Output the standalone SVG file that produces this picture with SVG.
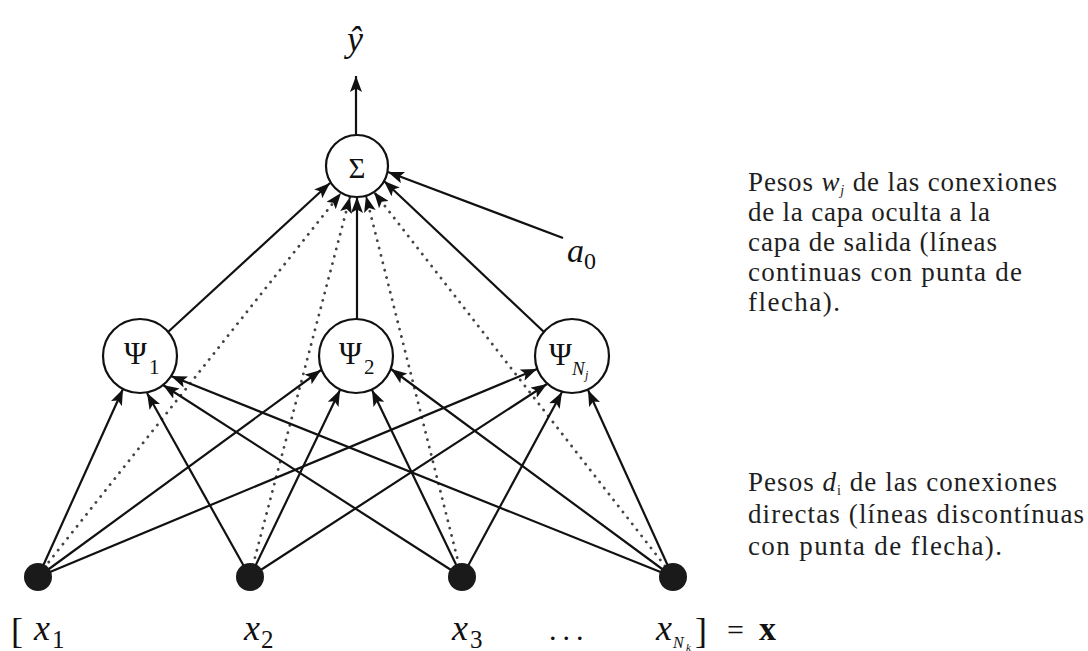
<svg xmlns="http://www.w3.org/2000/svg" width="1088" height="651" viewBox="0 0 1088 651">
<style>
.ln{stroke:#111;stroke-width:2.2;fill:none}
.dt{stroke:#444;stroke-width:2.8;fill:none;stroke-dasharray:0.1 7.5;stroke-linecap:round}
.nd{fill:#fff;stroke:#111;stroke-width:2.2}
.in{fill:#1a1a1a}
.m{font-family:"Liberation Serif",serif;fill:#111}
.it{font-style:italic}
.tx{font-family:"Liberation Serif",serif;font-size:27px;fill:#1e1e1e}
</style>
<defs>
<marker id="arr" markerUnits="userSpaceOnUse" markerWidth="17" markerHeight="12" refX="16" refY="6" orient="auto">
<path d="M0,0 L16,6 L0,12 L3.5,6 z" fill="#111"/>
</marker>
</defs>
<g id="connectors">
<line class="ln" x1="356" y1="135" x2="356" y2="76" marker-end="url(#arr)"/>
<line class="ln" x1="168" y1="332" x2="330" y2="183" marker-end="url(#arr)"/>
<line class="ln" x1="357" y1="319" x2="357" y2="197" marker-end="url(#arr)"/>
<line class="ln" x1="544" y1="332" x2="384" y2="181" marker-end="url(#arr)"/>
<line class="ln" x1="563" y1="238" x2="388" y2="172" marker-end="url(#arr)"/>
<line class="dt" x1="44" y1="568" x2="341" y2="193" marker-end="url(#arr)"/>
<line class="dt" x1="253" y1="565" x2="350" y2="197" marker-end="url(#arr)"/>
<line class="dt" x1="459" y1="565" x2="366" y2="196" marker-end="url(#arr)"/>
<line class="dt" x1="665" y1="566" x2="374" y2="192" marker-end="url(#arr)"/>
<line class="ln" x1="38" y1="577" x2="123" y2="389" marker-end="url(#arr)"/>
<line class="ln" x1="38" y1="577" x2="321" y2="370" marker-end="url(#arr)"/>
<line class="ln" x1="38" y1="577" x2="537" y2="369" marker-end="url(#arr)"/>
<line class="ln" x1="250" y1="577" x2="147" y2="393" marker-end="url(#arr)"/>
<line class="ln" x1="250" y1="577" x2="340" y2="390" marker-end="url(#arr)"/>
<line class="ln" x1="250" y1="577" x2="547" y2="384" marker-end="url(#arr)"/>
<line class="ln" x1="462" y1="577" x2="163" y2="385" marker-end="url(#arr)"/>
<line class="ln" x1="462" y1="577" x2="372" y2="390" marker-end="url(#arr)"/>
<line class="ln" x1="462" y1="577" x2="562" y2="392" marker-end="url(#arr)"/>
<line class="ln" x1="673" y1="577" x2="171" y2="376" marker-end="url(#arr)"/>
<line class="ln" x1="673" y1="577" x2="391" y2="369" marker-end="url(#arr)"/>
<line class="ln" x1="673" y1="577" x2="588" y2="390" marker-end="url(#arr)"/>
</g>
<g id="yhat">
<text class="m it" x="355" y="51" font-size="36" text-anchor="middle">ŷ</text>
</g>
<g id="sigma">
<circle class="nd" cx="357" cy="166" r="31"/>
<text class="m" x="357" y="178" font-size="29" text-anchor="middle">Σ</text>
</g>
<g id="a0">
<text class="m it" x="567" y="262" font-size="34">a</text>
<text class="m" x="584" y="269" font-size="24">0</text>
</g>
<g id="psi1">
<circle class="nd" cx="140" cy="356" r="37"/>
<text class="m" x="124" y="364" font-size="31">Ψ</text>
<text class="m" x="149" y="374" font-size="21">1</text>
</g>
<g id="psi2">
<circle class="nd" cx="356" cy="356" r="37"/>
<text class="m" x="339" y="364" font-size="31">Ψ</text>
<text class="m" x="364" y="374" font-size="21">2</text>
</g>
<g id="psiNj">
<circle class="nd" cx="572" cy="356" r="37"/>
<text class="m" x="549" y="365" font-size="31">Ψ</text>
<text class="m it" x="572" y="375" font-size="19">N</text>
<text class="m it" x="585" y="379" font-size="12">j</text>
</g>
<g id="x1">
<circle class="in" cx="38" cy="577" r="14"/>
<text class="m" x="11" y="643" font-size="36">[</text>
<text class="m it" x="34" y="640" font-size="36">x</text>
<text class="m" x="52" y="648" font-size="25">1</text>
</g>
<g id="x2">
<circle class="in" cx="250" cy="577" r="14"/>
<text class="m it" x="244" y="640" font-size="36">x</text>
<text class="m" x="261" y="648" font-size="25">2</text>
</g>
<g id="x3">
<circle class="in" cx="462" cy="577" r="14"/>
<text class="m it" x="452" y="640" font-size="36">x</text>
<text class="m" x="470" y="648" font-size="25">3</text>
</g>
<g id="dots">
<text class="m" x="549" y="640" font-size="30" letter-spacing="6">...</text>
</g>
<g id="xNk">
<circle class="in" cx="673" cy="577" r="14"/>
<text class="m it" x="656" y="640" font-size="36">x</text>
<text class="m it" x="673" y="648" font-size="16">N</text>
<text class="m it" x="686" y="651" font-size="11">k</text>
<text class="m" x="695" y="643" font-size="36">]</text>
<text class="m" x="727" y="640" font-size="30">=</text>
<text class="m" x="759" y="640" font-size="34" font-weight="bold">x</text>
</g>
<g id="note-w">
<text class="tx" x="748" y="191" textLength="309" lengthAdjust="spacing">Pesos <tspan font-style="italic">w</tspan><tspan font-size="14" font-style="italic" dy="4">j</tspan><tspan dy="-4"> de las conexiones</tspan></text>
<text class="tx" x="748" y="221" textLength="242" lengthAdjust="spacing">de la capa oculta a la</text>
<text class="tx" x="748" y="251" textLength="249" lengthAdjust="spacing">capa de salida (líneas</text>
<text class="tx" x="748" y="281" textLength="274" lengthAdjust="spacing">continuas con punta de</text>
<text class="tx" x="748" y="311" textLength="92" lengthAdjust="spacing">flecha).</text>
</g>
<g id="note-d">
<text class="tx" x="748" y="491" textLength="309" lengthAdjust="spacing">Pesos <tspan font-style="italic">d</tspan><tspan font-size="14" dy="4">i</tspan><tspan dy="-4"> de las conexiones</tspan></text>
<text class="tx" x="748" y="523" textLength="336" lengthAdjust="spacing">directas (líneas discontínuas</text>
<text class="tx" x="748" y="555" textLength="254" lengthAdjust="spacing">con punta de flecha).</text>
</g>
</svg>
